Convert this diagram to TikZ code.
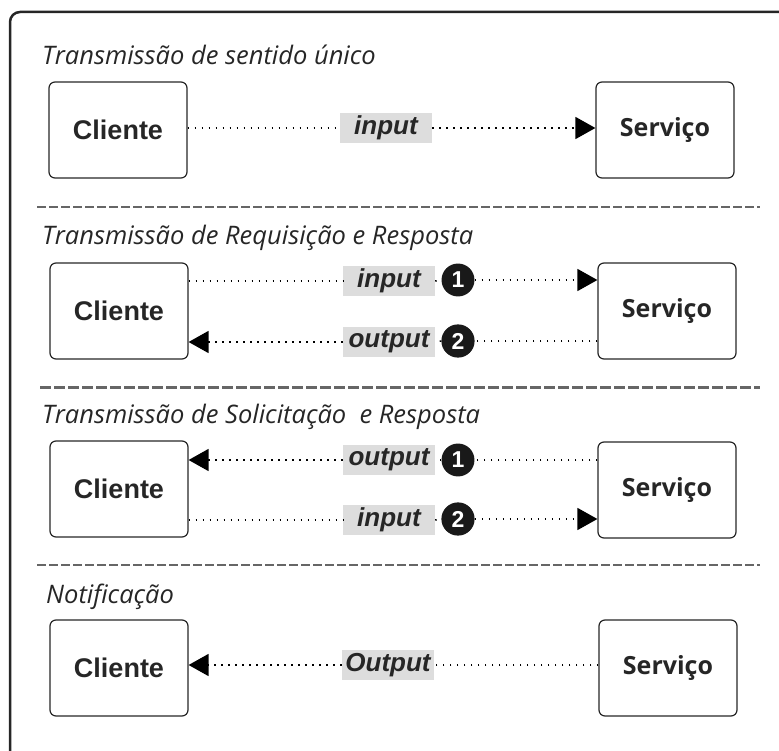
\documentclass[tikz,border=0pt]{standalone}
\usepackage{fontspec}
\setmainfont{Liberation Sans}
\newfontfamily\titlefont{Open Sans}
\newfontfamily\srvfont{Open Sans}
\usetikzlibrary{arrows.meta}
\begin{document}
\begin{tikzpicture}[x=1pt, y=-1pt,
    boxstyle/.style={rectangle, draw=black!85, line width=1.2pt, rounded corners=6pt, minimum width=138pt, minimum height=96pt, inner sep=0pt, text=black!85, font=\fontsize{27}{30}\selectfont\bfseries},
    srvstyle/.style={boxstyle, font=\srvfont\fontsize{25}{30}\selectfont\bfseries},
    labelstyle/.style={rectangle, fill=gray!27, minimum width=92pt, minimum height=30pt, inner sep=0pt, text=black!85, font=\fontsize{26}{28}\selectfont\bfseries\itshape},
    numstyle/.style={circle, fill=black!90, text=white, inner sep=4.5pt, minimum size=27pt, font=\fontsize{23}{24}\selectfont\bfseries},
    titlestyle/.style={anchor=base west, inner sep=0pt, text=black!85, font=\titlefont\fontsize{25.5}{28}\selectfont\itshape},
    flowstyle/.style={line width=1.5pt, dash pattern=on 1.5pt off 5.5pt},
    arrowstyle/.style={flowstyle, -{Triangle[length=20pt, width=22pt]}},
    sepstyle/.style={black!60, line width=1.4pt, dash pattern=on 9pt off 3pt}
]
    \useasboundingbox (0,0) rectangle (779,751);
    \clip (0,0) rectangle (779,751);
    \draw[line width=2.5pt, black!85, rounded corners=10pt] (10,800) -- (10,12) -- (820,12);

    % sentido unico
    \node[titlestyle] (t1) at (42,65) {Transmissão de sentido único};
    \node[boxstyle] (cli1) at (118,130) {Cliente};
    \node[srvstyle] (srv1) at (665,130) {Serviço};
    \node[labelstyle] (in1) at (386,128) {input};
    \draw[flowstyle] (cli1.east |- in1) -- (in1.west);
    \draw[arrowstyle] (in1.east) -- (srv1.west |- in1);

    \draw[sepstyle] (37,207) -- (760,207);

    % requisicao e resposta
    \node[titlestyle] (t2) at (42,245) {Transmissão de Requisição e Resposta};
    \node[boxstyle] (cli2) at (119,311) {Cliente};
    \node[srvstyle] (srv2) at (667,311) {Serviço};
    \node[labelstyle] (in2) at (389,281) {input};
    \node[numstyle] (n21) at (458,280) {1};
    \node[labelstyle] (out2) at (389,342) {output};
    \node[numstyle] (n22) at (458,341) {2};
    \draw[flowstyle] (cli2.east |- in2) -- (in2.west);
    \draw[flowstyle] (in2.east) -- (n21.west);
    \draw[arrowstyle] (n21.east) -- (srv2.west |- n21);
    \draw[flowstyle] (srv2.west |- n22) -- (n22.east);
    \draw[flowstyle] (n22.west) -- (out2.east);
    \draw[arrowstyle] (out2.west) -- (cli2.east |- out2);

    \draw[sepstyle, line width=3pt, dash pattern=on 11pt off 3pt] (40,387) -- (760,387);

    % solicitacao e resposta
    \node[titlestyle] (t3) at (42,423) {Transmissão de Solicitação~ e Resposta};
    \node[boxstyle] (cli3) at (119,489) {Cliente};
    \node[srvstyle] (srv3) at (667,490) {Serviço};
    \node[labelstyle] (out3) at (389,460) {output};
    \node[numstyle] (n31) at (458,460) {1};
    \node[labelstyle] (in3) at (389,520) {input};
    \node[numstyle] (n32) at (458,519) {2};
    \draw[flowstyle] (srv3.west |- n31) -- (n31.east);
    \draw[flowstyle] (n31.west) -- (out3.east);
    \draw[arrowstyle] (out3.west) -- (cli3.east |- out3);
    \draw[flowstyle] (cli3.east |- in3) -- (in3.west);
    \draw[flowstyle] (in3.east) -- (n32.west);
    \draw[arrowstyle] (n32.east) -- (srv3.west |- n32);

    \draw[sepstyle] (37,565) -- (760,565);

    % notificacao
    \node[titlestyle] (t4) at (46,603) {Notificação};
    \node[boxstyle] (cli4) at (119,668) {Cliente};
    \node[srvstyle] (srv4) at (668,668) {Serviço};
    \node[labelstyle] (out4) at (388,665) {Output};
    \draw[flowstyle] (srv4.west |- out4) -- (out4.east);
    \draw[arrowstyle] (out4.west) -- (cli4.east |- out4);
\end{tikzpicture}
\end{document}
